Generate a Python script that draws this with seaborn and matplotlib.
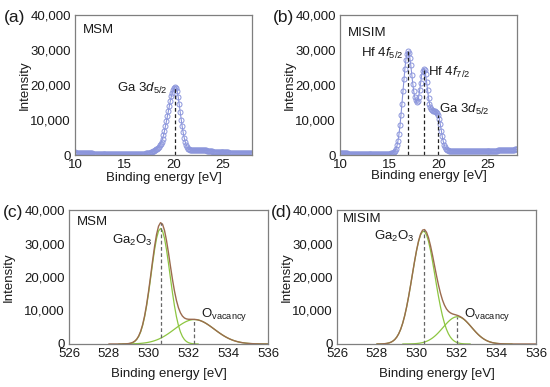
"""
XPS spectra: valence band (Ga 3d / Hf 4f) and O 1s fits for MSM and MISIM.
Writes out.png (550 x 387 px).
"""

import numpy as np
import matplotlib
matplotlib.use("Agg")
import matplotlib.pyplot as plt
import seaborn as sns
from matplotlib.ticker import StrMethodFormatter

# --- valence band region (10-28 eV, 0.1 eV steps) ---
vb_energy = np.round(np.arange(10.0, 28.01, 0.1), 1)

msm_vb = [
    720, 705, 690, 672, 655, 640, 622, 605, 590, 572,
    555, 538, 522, 505, 488, 472, 455, 438, 422, 405,
    390, 375, 360, 347, 334, 322, 310, 300, 290, 280,
    270, 262, 254, 246, 240, 234, 228, 222, 217, 212,
    208, 204, 200, 197, 195, 193, 191, 190, 189, 188,
    188, 188, 189, 190, 192, 194, 196, 199, 203, 208,
    214, 221, 230, 240, 252, 266, 282, 300, 320, 345,
    372, 405, 445, 495, 555, 625, 710, 810, 930, 1065,
    1220, 1400, 1600, 1830, 2090, 2400, 2780, 3250, 3850, 4650,
    5650, 6850, 8200, 9650, 11150, 12650, 14100, 15500, 16750, 17800,
    18650, 19250, 19550, 19250, 18200, 16500, 14450, 12250, 10100, 8150,
    6450, 5000, 3850, 2950, 2300, 1850, 1580, 1430, 1360, 1330,
    1320, 1320, 1330, 1340, 1350, 1360, 1370, 1375, 1375, 1370,
    1360, 1345, 1325, 1300, 1265, 1225, 1180, 1130, 1085, 1040,
    1000, 965, 935, 905, 880, 860, 840, 825, 810, 795,
    782, 770, 760, 750, 740, 731, 722, 714, 706, 699,
    692, 686, 680, 674, 668, 663, 658, 653, 648, 643,
    639, 635, 631, 627, 623, 619, 616, 613, 610, 607,
    604,
]

misim_vb = [
    520, 505, 492, 478, 466, 455, 444, 433, 423, 412,
    402, 392, 383, 374, 365, 356, 348, 340, 332, 325,
    318, 311, 305, 299, 293, 288, 283, 278, 273, 269,
    265, 261, 257, 254, 251, 248, 245, 243, 241, 239,
    238, 237, 238, 240, 244, 250, 258, 270, 286, 308,
    340, 385, 450, 545, 690, 920, 1280, 1850, 2750, 4100,
    6000, 8450, 11400, 14700, 18200, 21600, 24700, 27200, 28900, 29600,
    29200, 27800, 25600, 23000, 20400, 18200, 16600, 15600, 15200, 15500,
    16600, 18500, 20700, 22700, 24100, 24700, 24400, 23100, 21000, 18600,
    16400, 14700, 13600, 13050, 12800, 12700, 12620, 12530, 12380, 12100,
    11500, 10400, 8800, 7000, 5300, 3900, 2850, 2150, 1720, 1470,
    1320, 1230, 1170, 1135, 1110, 1095, 1085, 1075, 1068, 1062,
    1058, 1054, 1050, 1046, 1043, 1040, 1037, 1034, 1032, 1030,
    1028, 1027, 1026, 1026, 1027, 1028, 1030, 1033, 1036, 1040,
    1045, 1050, 1056, 1063, 1071, 1080, 1090, 1100, 1111, 1122,
    1133, 1145, 1157, 1170, 1183, 1197, 1211, 1226, 1241, 1256,
    1271, 1287, 1303, 1320, 1337, 1354, 1371, 1388, 1405, 1422,
    1440, 1458, 1476, 1494, 1512, 1530, 1548, 1566, 1584, 1602,
    1620,
]

msm_vb_peaks = [20.2]
misim_vb_peaks = [16.9, 18.5, 20.0]

# --- O 1s fit components (528-536 eV, 0.1 eV steps) ---
o1s_energy = np.round(np.arange(528.0, 536.01, 0.1), 1)

msm_ga2o3 = [
    0, 0, 0, 0, 0, 0, 0, 10, 22, 50,
    105, 212, 408, 752, 1320, 2230, 3590, 5520, 8100, 11380,
    15270, 19590, 24020, 28140, 31520, 33730, 34500, 33730, 31520, 28140,
    24020, 19590, 15270, 11380, 8100, 5520, 3590, 2230, 1320, 752,
    408, 212, 105, 50, 22, 10, 0, 0, 0, 0,
    0, 0, 0, 0, 0, 0, 0, 0, 0, 0,
    0, 0, 0, 0, 0, 0, 0, 0, 0, 0,
    0, 0, 0, 0, 0, 0, 0, 0, 0, 0,
    0,
]

msm_ovac = [
    1, 1, 2, 2, 4, 5, 7, 11, 16, 23,
    32, 44, 60, 81, 109, 145, 191, 248, 321, 410,
    518, 649, 805, 988, 1201, 1445, 1721, 2029, 2370, 2740,
    3136, 3554, 3987, 4428, 4869, 5301, 5714, 6098, 6442, 6739,
    6979, 7155, 7264, 7300, 7264, 7155, 6979, 6739, 6442, 6098,
    5714, 5301, 4869, 4428, 3987, 3554, 3136, 2740, 2370, 2029,
    1721, 1445, 1201, 988, 805, 649, 518, 410, 321, 248,
    191, 145, 109, 81, 60, 44, 32, 23, 16, 11,
    7,
]

misim_ga2o3 = [
    7, 14, 27, 52, 97, 174, 303, 511, 836, 1320,
    2040, 3040, 4400, 6180, 8400, 11080, 14180, 17590, 21160, 24680,
    27910, 30610, 32550, 33570, 33570, 32550, 30610, 27910, 24680, 21160,
    17590, 14180, 11080, 8400, 6180, 4400, 3040, 2040, 1320, 836,
    511, 303, 174, 97, 52, 27, 14, 7, 0, 0,
    0, 0, 0, 0, 0, 0, 0, 0, 0, 0,
    0, 0, 0, 0, 0, 0, 0, 0, 0, 0,
    0, 0, 0, 0, 0, 0, 0, 0, 0, 0,
    0,
]

misim_ovac = [
    0, 0, 0, 0, 0, 0, 0, 0, 0, 0,
    1, 2, 3, 5, 9, 15, 25, 40, 62, 94,
    142, 208, 300, 425, 590, 803, 1073, 1405, 1806, 2276,
    2814, 3413, 4060, 4737, 5423, 6088, 6704, 7242, 7673, 7975,
    8130, 8130, 7975, 7673, 7242, 6704, 6088, 5423, 4737, 4060,
    3413, 2814, 2276, 1806, 1405, 1073, 803, 590, 425, 300,
    208, 142, 94, 62, 40, 25, 15, 9, 5, 3,
    2, 0, 0, 0, 0, 0, 0, 0, 0, 0,
    0,
]

msm_o1s_peaks = [530.6, 532.3]
misim_o1s_peaks = [530.35, 532.05]

# --- style ---
MARKER_C = "#8c96dc"
ENV_C = "#9b6b4e"
COMP_C = "#8dc641"
SPINE_C = "#7f7f7f"
TEXT_C = "#1a1a1a"
FS = 9.5

sns.set_theme(style="white")
plt.rcParams["font.family"] = ["Liberation Sans", "DejaVu Sans"]
plt.rcParams["mathtext.fontset"] = "custom"
plt.rcParams["mathtext.rm"] = "Liberation Sans"
plt.rcParams["mathtext.it"] = "Liberation Sans:italic"
plt.rcParams["mathtext.bf"] = "Liberation Sans:bold"

W, H = 550, 387
fig = plt.figure(figsize=(W / 100, H / 100), dpi=100)


def px_axes(left, top, right, bottom):
    return fig.add_axes([left / W, 1 - bottom / H, (right - left) / W, (bottom - top) / H])


def style_axes(ax, xlim, xticks, ylabel_x, xlabel_y):
    ax.set_xlim(*xlim)
    ax.set_ylim(0, 40000)
    ax.set_xticks(xticks)
    ax.set_yticks([0, 10000, 20000, 30000, 40000])
    ax.yaxis.set_major_formatter(StrMethodFormatter("{x:,.0f}"))
    ax.tick_params(direction="in", length=2.5, width=0.6, color=SPINE_C, pad=3,
                   labelsize=FS, labelcolor=TEXT_C)
    for s in ax.spines.values():
        s.set_color(SPINE_C)
        s.set_linewidth(0.9)
    ax.set_xlabel("Binding energy [eV]", fontsize=FS, color=TEXT_C)
    ax.set_ylabel("Intensity", fontsize=FS, color=TEXT_C)
    ax.xaxis.set_label_coords(0.5, xlabel_y)
    ax.yaxis.set_label_coords(ylabel_x, 0.5)


def plot_vb(ax, values, peaks):
    sns.lineplot(x=vb_energy, y=values, ax=ax, color=MARKER_C, linewidth=0.8,
                 marker="o", markersize=3.6, markerfacecolor="none",
                 markeredgecolor=MARKER_C, markeredgewidth=0.7)
    tops = np.interp(peaks, vb_energy, values)
    ax.vlines(peaks, 0, tops, colors="#222222", linestyles=(0, (3, 2)), linewidth=0.9)


def plot_o1s(ax, ga2o3, ovac, peaks):
    ga2o3 = np.asarray(ga2o3, dtype=float)
    ovac = np.asarray(ovac, dtype=float)
    envelope = ga2o3 + ovac
    for comp in (ga2o3, ovac):
        shown = np.where(comp >= 5, comp, np.nan)
        sns.lineplot(x=o1s_energy, y=shown, ax=ax, color=COMP_C, linewidth=0.9)
    sns.lineplot(x=o1s_energy, y=envelope, ax=ax, color=ENV_C, linewidth=1.0)
    tops = [envelope.max(), ovac.max()]
    ax.vlines(peaks, 0, tops, colors="#666666", linestyles=(0, (3, 2)), linewidth=0.9)


ax_a = px_axes(75, 15, 252, 155)
ax_b = px_axes(340, 15, 517, 155)
ax_c = px_axes(69, 210, 268, 344)
ax_d = px_axes(337, 210, 536, 344)

# (a) MSM valence band
plot_vb(ax_a, msm_vb, msm_vb_peaks)
style_axes(ax_a, (10, 28), [10, 15, 20, 25], -0.249, -0.12)
ax_a.text(0.045, 0.893, "MSM", transform=ax_a.transAxes, fontsize=FS, va="center", color=TEXT_C)
ax_a.text(19.4, 18900, "Ga 3$d_{5/2}$", ha="right", va="center", fontsize=FS, color=TEXT_C)

# (b) MISIM valence band
plot_vb(ax_b, misim_vb, misim_vb_peaks)
style_axes(ax_b, (10, 28), [10, 15, 20, 25], -0.249, -0.11)
ax_b.text(0.045, 0.871, "MISIM", transform=ax_b.transAxes, fontsize=FS, va="center", color=TEXT_C)
ax_b.text(16.5, 29000, "Hf 4$f_{5/2}$", ha="right", va="center", fontsize=FS, color=TEXT_C)
ax_b.text(18.95, 23500, "Hf 4$f_{7/2}$", ha="left", va="center", fontsize=FS, color=TEXT_C)
ax_b.text(20.05, 12900, "Ga 3$d_{5/2}$", ha="left", va="center", fontsize=FS, color=TEXT_C)

# (c) MSM O 1s
plot_o1s(ax_c, msm_ga2o3, msm_ovac, msm_o1s_peaks)
style_axes(ax_c, (526, 536), [526, 528, 530, 532, 534, 536], -0.271, -0.179)
ax_c.text(0.04, 0.907, "MSM", transform=ax_c.transAxes, fontsize=FS, va="center", color=TEXT_C)
ax_c.text(530.2, 31000, "Ga$_2$O$_3$", ha="right", va="center", fontsize=FS, color=TEXT_C)
ax_c.text(532.65, 8700, "O$_{\\mathrm{vacancy}}$", ha="left", va="center", fontsize=FS, color=TEXT_C)

# (d) MISIM O 1s
plot_o1s(ax_d, misim_ga2o3, misim_ovac, misim_o1s_peaks)
style_axes(ax_d, (526, 536), [526, 528, 530, 532, 534, 536], -0.221, -0.179)
ax_d.text(0.03, 0.933, "MISIM", transform=ax_d.transAxes, fontsize=FS, va="center", color=TEXT_C)
ax_d.text(529.9, 32000, "Ga$_2$O$_3$", ha="right", va="center", fontsize=FS, color=TEXT_C)
ax_d.text(532.4, 8700, "O$_{\\mathrm{vacancy}}$", ha="left", va="center", fontsize=FS, color=TEXT_C)

# panel letters
for label, (px, py) in zip(["(a)", "(b)", "(c)", "(d)"],
                           [(15, 17.5), (283, 17.5), (13, 212.5), (282, 213)]):
    fig.text(px / W, 1 - py / H, label, fontsize=12.5, ha="center", va="center", color=TEXT_C)

fig.savefig("out.png", dpi=100)
plt.close(fig)
